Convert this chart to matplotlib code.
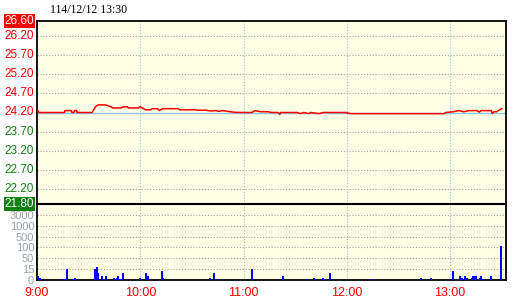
import numpy as np
import matplotlib
matplotlib.use('Agg')
from matplotlib import pyplot as plt

# minutes after 9:00 and price
price_min = [0.5, 1, 16, 16.2, 20, 20.3, 21.5, 21.8, 23, 23.3, 32, 34, 35.5, 39.6, 41, 43, 44,
             49, 50, 52.5, 53, 56.5, 59, 60, 62, 63, 66, 67, 70, 71, 73, 82, 83, 92, 93,
             98, 101, 104, 105.5, 108, 112, 116.5, 125, 126.5, 130, 134.5, 135.7, 140,
             141, 141.5, 151, 153, 155, 158, 159, 164, 166, 179.5, 182, 236.5, 237.5,
             242, 245, 248, 251, 255.7, 257, 258, 264, 264.5, 265.6, 267, 270]
price_val = [24.25, 24.20, 24.20, 24.25, 24.25, 24.20, 24.20, 24.25, 24.25, 24.20, 24.20, 24.35,
             24.40, 24.40, 24.38, 24.35, 24.32, 24.32, 24.35, 24.35, 24.32, 24.32, 24.32,
             24.35, 24.30, 24.27, 24.27, 24.30, 24.30, 24.25, 24.30, 24.30, 24.27, 24.27,
             24.26, 24.26, 24.24, 24.25, 24.23, 24.25, 24.22, 24.20, 24.20, 24.25, 24.22,
             24.22, 24.20, 24.20, 24.15, 24.20, 24.20, 24.17, 24.20, 24.17, 24.20, 24.17,
             24.20, 24.20, 24.17, 24.17, 24.20, 24.22, 24.25, 24.22, 24.25, 24.25, 24.21,
             24.25, 24.25, 24.17, 24.22, 24.22, 24.30]

vol_min = [0.5, 1.7, 15.3, 16.3, 17.7, 20.8, 22.3, 33.8, 34.6, 35.5, 38, 40.2, 44.9, 46.4, 47.2,
           48, 49.7, 59.6, 63.1, 64.3, 72.4, 73, 100.8, 103.1, 104.9, 124.7, 142.7, 156.1,
           160.8, 166, 167.2, 170.1, 194.6, 223.1, 228.9, 241.7, 245.8, 247, 248.7, 249.9,
           252.8, 253.4, 254, 255.1, 257.5, 258.1, 258.6, 263.9, 269.7]
vol_val = [5, 3, 2, 2, 15, 2, 3, 15, 21, 10, 5, 5, 3, 3, 5, 2, 9, 3, 10, 5, 13, 3, 3, 9, 2, 15,
           5, 2, 3, 3, 2, 10, 2, 3, 3, 12, 5, 3, 6, 3, 3, 6, 5, 5, 3, 5, 2, 5, 170]

ref_price = 24.20
price_ticks = [26.60, 26.20, 25.70, 25.20, 24.70, 24.20, 23.70, 23.20, 22.70, 22.20, 21.80]
vol_levels = [0, 15, 50, 100, 500, 1000, 3000, 5000]
time_ticks = [0, 60, 120, 180, 240]
time_labels = ['9:00', '10:00', '11:00', '12:00', '13:00']
title = '114/12/12 13:30'

bg = '#ffffe6'
red = '#ff0000'
green = '#108010'
grid_gray = '#a0a0a0'
grid_blue = '#9cc4e0'
xmax = 272.5

fig = plt.figure(figsize=(5.2, 3.0), dpi=100)
ax = fig.add_axes([37 / 520, 96 / 300, 469 / 520, 183 / 300])
axv = fig.add_axes([37 / 520, 20 / 300, 469 / 520, 76 / 300])

for a in (ax, axv):
    a.set_facecolor(bg)
    a.set_xlim(0, xmax)
    a.tick_params(length=0)
    for s in a.spines.values():
        s.set_color('black')
        s.set_linewidth(1.3)

# price panel
ax.set_ylim(21.80, 26.60)
ax.set_xticks(time_ticks)
ax.set_xticklabels([])
ax.set_yticks(price_ticks)
ax.set_yticklabels([])
for p in price_ticks[1:-1]:
    if p == ref_price:
        continue
    ax.axhline(p, color=grid_gray, lw=0.8, ls=(0, (1, 1.6)), zorder=1)
for t in time_ticks[1:]:
    ax.axvline(t, color=grid_blue, lw=0.8, ls=(0, (1, 1.6)), zorder=1)
ax.axhline(ref_price, color='#8ec4e6', lw=1.0, zorder=2)
ax.plot(price_min, price_val, color=red, lw=1.1, zorder=3)

for p in price_ticks:
    col = red if p >= ref_price else green
    if p in (price_ticks[0], price_ticks[-1]):
        ax.text(-0.006, p, '%.2f' % p, transform=ax.get_yaxis_transform(), ha='right',
                va='center', color='white', fontsize=8.5, family='Liberation Sans',
                bbox=dict(facecolor=col, edgecolor='none', pad=0.6))
    else:
        ax.text(-0.006, p, '%.2f' % p, transform=ax.get_yaxis_transform(), ha='right',
                va='center', color=col, fontsize=8.5, family='Liberation Sans')

# volume panel
pos = np.arange(len(vol_levels), dtype=float)
fwd = lambda v: np.interp(v, vol_levels, pos)
inv = lambda p: np.interp(p, pos, vol_levels)
axv.set_yscale('function', functions=(fwd, inv))
axv.set_ylim(0, 5000)
axv.set_yticks(vol_levels[:-1])
axv.set_yticklabels([str(v) for v in vol_levels[:-1]], color='#9aa2aa', fontsize=8,
                    family='Liberation Sans')
axv.tick_params(axis='y', pad=2)
for v in vol_levels[1:-1]:
    axv.axhline(v, color=grid_gray, lw=0.8, ls=(0, (1, 1.6)), zorder=1)
for t in time_ticks[1:]:
    axv.axvline(t, color='#a8b8bc', lw=0.8, ls=(0, (1, 1.6)), zorder=1)
axv.vlines(vol_min, 0, vol_val, color='#0000ff', lw=1.4, antialiased=False, zorder=3)
axv.spines['top'].set_linewidth(1.5)
ax.spines['bottom'].set_visible(False)

axv.set_xticks(time_ticks)
axv.set_xticklabels(time_labels, color=red, fontsize=9, family='Liberation Sans')
axv.tick_params(axis='x', pad=5)

fig.text(50 / 520, 1 - 10 / 300, title, ha='left', va='center', fontsize=8.5,
         family='Liberation Serif', color='black')

fig.savefig('out.png', dpi=100)
